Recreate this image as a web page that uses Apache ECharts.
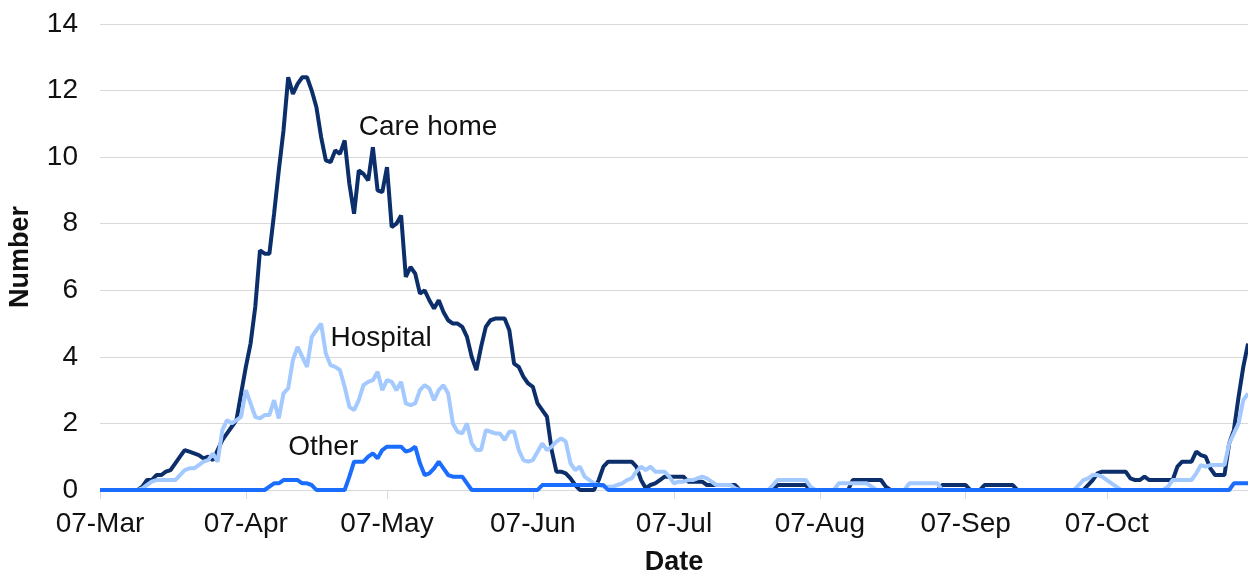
<!DOCTYPE html>
<html>
<head>
<meta charset="utf-8">
<script src="https://cdn.jsdelivr.net/npm/echarts@6/dist/echarts.min.js"></script>
<style>
html,body{margin:0;padding:0;background:#fff;}
#chart{width:1248px;height:574px;}
</style>
</head>
<body>
<div id="chart"></div>
<script>
// Categories: daily dates from 07-Mar to 06-Nov
var startDate = [2020, 2, 7];
var dayCount = 245;
var monthNames = ['Jan','Feb','Mar','Apr','May','Jun','Jul','Aug','Sep','Oct','Nov','Dec'];
var categories = [];
for (var i = 0; i < dayCount; i++) {
  var dt = new Date(Date.UTC(startDate[0], startDate[1], startDate[2] + i));
  var dd = dt.getUTCDate();
  categories.push((dd < 10 ? '0' : '') + dd + '-' + monthNames[dt.getUTCMonth()]);
}

var careHome = [
  0,0,0,0,0,0,0,0,0,0.1,
  0.3,0.3,0.45,0.45,0.55,0.6,0.8,1.0,1.2,1.15,
  1.1,1.05,0.95,1.0,0.9,1.2,1.5,1.7,1.9,2.1,
  2.9,3.7,4.4,5.5,7.2,7.1,7.1,8.3,9.6,10.8,
  12.4,11.9,12.2,12.4,12.4,12.0,11.5,10.6,9.9,9.85,
  10.2,10.1,10.5,9.2,8.3,9.6,9.5,9.3,10.3,9.0,
  8.95,9.7,7.9,8.0,8.25,6.4,6.7,6.5,5.9,6.0,
  5.7,5.45,5.7,5.35,5.1,5.0,5.0,4.9,4.6,4.0,
  3.6,4.3,4.9,5.1,5.15,5.15,5.15,4.8,3.8,3.7,
  3.4,3.2,3.1,2.6,2.4,2.2,1.2,0.55,0.55,0.5,
  0.35,0.15,0,0,0,0,0.3,0.7,0.85,0.85,
  0.85,0.85,0.85,0.85,0.7,0.3,0.05,0.15,0.2,0.3,
  0.4,0.4,0.4,0.4,0.4,0.25,0.25,0.25,0.25,0.15,
  0.15,0.15,0.15,0.15,0.15,0.15,0,0,0,0,
  0,0,0,0,0.15,0.15,0.15,0.15,0.15,0.15,
  0.15,0,0,0,0,0,0,0,0,0,
  0.3,0.3,0.3,0.3,0.3,0.3,0.3,0.1,0,0,
  0,0,0,0,0,0,0,0,0,0.15,
  0.15,0.15,0.15,0.15,0.15,0,0,0,0.15,0.15,
  0.15,0.15,0.15,0.15,0.15,0,0,0,0,0,
  0,0,0,0,0,0,0,0,0,0,
  0.15,0.3,0.5,0.55,0.55,0.55,0.55,0.55,0.55,0.35,
  0.3,0.3,0.4,0.3,0.3,0.3,0.3,0.3,0.3,0.7,
  0.85,0.85,0.85,1.15,1.05,1.0,0.65,0.45,0.45,0.45,
  1.4,1.8,2.8,3.7,4.4
];

var hospital = [
  0,0,0,0,0,0,0,0,0,0.05,
  0.15,0.25,0.3,0.3,0.3,0.3,0.3,0.45,0.6,0.65,
  0.65,0.75,0.85,0.9,1.1,0.85,1.8,2.1,2.0,2.1,
  2.2,3.0,2.6,2.2,2.15,2.25,2.25,2.7,2.15,2.9,
  3.05,3.9,4.3,4.0,3.7,4.6,4.8,5.0,4.1,3.75,
  3.7,3.6,3.1,2.5,2.4,2.7,3.15,3.25,3.3,3.55,
  3.0,3.3,3.25,3.0,3.25,2.6,2.55,2.6,3.0,3.15,
  3.05,2.7,3.0,3.15,2.9,2.0,1.75,1.7,2.0,1.4,
  1.2,1.2,1.8,1.75,1.7,1.7,1.5,1.75,1.75,1.2,
  0.9,0.85,0.9,1.15,1.4,1.2,1.3,1.45,1.55,1.45,
  0.8,0.6,0.7,0.4,0.3,0.2,0.15,0.1,0.1,0.1,
  0.15,0.2,0.3,0.35,0.55,0.7,0.6,0.7,0.55,0.55,
  0.55,0.4,0.2,0.25,0.25,0.3,0.3,0.35,0.4,0.35,
  0.25,0.15,0.15,0.15,0.15,0.05,0,0,0,0,
  0,0,0,0.15,0.3,0.3,0.3,0.3,0.3,0.3,
  0.3,0.1,0,0,0,0,0,0.2,0.2,0.2,
  0.2,0.2,0.2,0.2,0.1,0,0,0,0,0,
  0,0,0.2,0.2,0.2,0.2,0.2,0.2,0.2,0,
  0,0,0,0,0,0,0,0,0,0,
  0,0,0,0,0,0,0,0,0,0,
  0,0,0,0,0,0,0,0,0.15,0.3,
  0.35,0.45,0.45,0.4,0.3,0.2,0.1,0,0,0,
  0,0,0,0,0,0,0,0.1,0.3,0.3,
  0.3,0.3,0.3,0.5,0.75,0.7,0.75,0.75,0.75,0.75,
  1.4,1.7,2.0,2.7,2.9
];

var other = [
  0,0,0,0,0,0,0,0,0,0,
  0,0,0,0,0,0,0,0,0,0,
  0,0,0,0,0,0,0,0,0,0,
  0,0,0,0,0,0,0.1,0.2,0.2,0.3,
  0.3,0.3,0.3,0.2,0.2,0.15,0,0,0,0,
  0,0,0,0.4,0.85,0.85,0.85,1.0,1.1,0.95,
  1.2,1.3,1.3,1.3,1.3,1.15,1.2,1.3,0.8,0.45,
  0.5,0.65,0.85,0.65,0.45,0.4,0.4,0.4,0.2,0,
  0,0,0,0,0,0,0,0,0,0,
  0,0,0,0,0.15,0.15,0.15,0.15,0.15,0.15,
  0.15,0.15,0.15,0.15,0.15,0.15,0.15,0.15,0,0,
  0,0,0,0,0,0,0,0,0,0,
  0,0,0,0,0,0,0,0,0,0,
  0,0,0,0,0,0,0,0,0,0,
  0,0,0,0,0,0,0,0,0,0,
  0,0,0,0,0,0,0,0,0,0,
  0,0,0,0,0,0,0,0,0,0,
  0,0,0,0,0,0,0,0,0,0,
  0,0,0,0,0,0,0,0,0,0,
  0,0,0,0,0,0,0,0,0,0,
  0,0,0,0,0,0,0,0,0,0,
  0,0,0,0,0,0,0,0,0,0,
  0,0,0,0,0,0,0,0,0,0,
  0,0,0,0,0,0,0,0,0,0,
  0,0.2,0.2,0.2,0.2
];

var seriesNames = ['Care home', 'Hospital', 'Other'];
var yTicks = [0, 2, 4, 6, 8, 10, 12, 14];
// label anchor points [category index, value]
var labelAnchors = [[55, 10.9], [49, 4.56], [40, 1.29]];

var FONT = '"Liberation Sans", Arial, sans-serif';
var colors = ['#0c2f6c', '#a4c9ff', '#1a6dff'];
var dataSets = [careHome, hospital, other];

function isTickDay(index, value) {
  return categories[index].indexOf('07-') === 0;
}

var chart = echarts.init(document.getElementById('chart'), null, {renderer: 'canvas'});
var series = dataSets.map(function (d, k) {
  return {
    name: seriesNames[k],
    type: 'line',
    data: d,
    symbol: 'none',
    lineStyle: {color: colors[k], width: 4},
    itemStyle: {color: colors[k]},
    z: 2 + k,
    animation: false,
    markPoint: {
      symbol: 'circle',
      symbolSize: 0,
      silent: true,
      animation: false,
      label: {
        show: true,
        position: 'right',
        distance: 0,
        formatter: seriesNames[k],
        color: '#111',
        fontFamily: FONT,
        fontSize: 28
      },
      data: [{coord: [labelAnchors[k][0], labelAnchors[k][1]]}]
    }
  };
});

chart.setOption({
  animation: false,
  grid: {left: 100, right: 0, top: 24, bottom: 84, containLabel: false, outerBoundsMode: 'none'},
  xAxis: {
    type: 'category',
    data: categories,
    boundaryGap: false,
    name: 'Date',
    nameLocation: 'middle',
    nameGap: 59,
    nameTextStyle: {fontFamily: FONT, fontSize: 27, fontWeight: 'bold', color: '#111'},
    axisLine: {show: true, lineStyle: {color: '#d9d9d9', width: 1}},
    axisTick: {show: true, interval: isTickDay, length: 9, lineStyle: {color: '#d9d9d9'}},
    axisLabel: {interval: isTickDay, margin: 20, fontFamily: FONT, fontSize: 28, color: '#111'},
    splitLine: {show: false}
  },
  yAxis: {
    type: 'value',
    min: yTicks[0],
    max: yTicks[yTicks.length - 1],
    interval: yTicks[1] - yTicks[0],
    name: 'Number',
    nameLocation: 'middle',
    nameRotate: 90,
    nameGap: 66,
    nameTextStyle: {fontFamily: FONT, fontSize: 27, fontWeight: 'bold', color: '#111'},
    axisLine: {show: false},
    axisTick: {show: false},
    axisLabel: {margin: 22, fontFamily: FONT, fontSize: 28, color: '#111'},
    splitLine: {show: true, lineStyle: {color: '#d9d9d9', width: 1}}
  },
  series: series
});
</script>
</body>
</html>
